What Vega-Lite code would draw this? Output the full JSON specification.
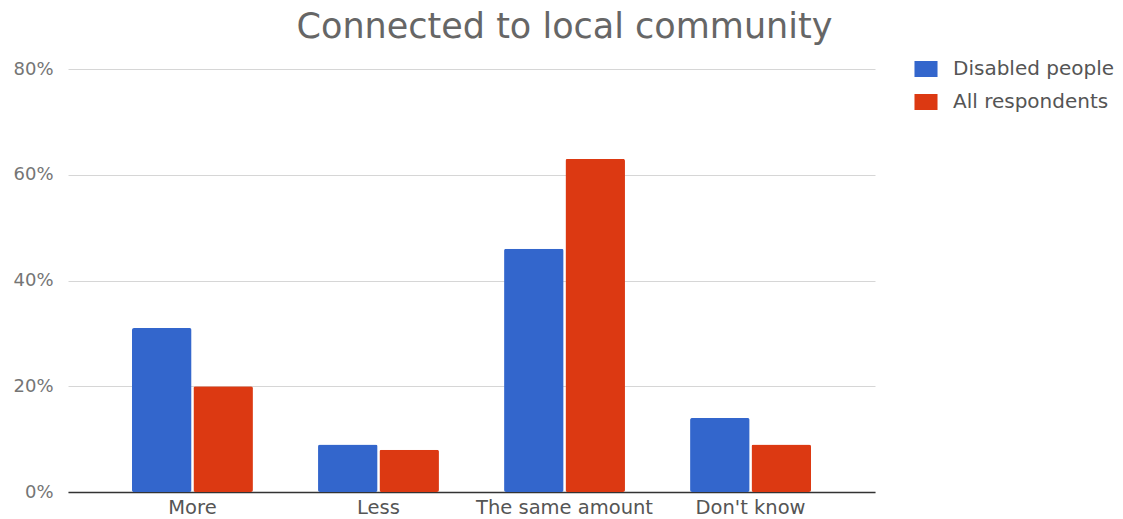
{
  "$schema": "https://vega.github.io/schema/vega-lite/v6.json",
  "width": 807,
  "height": 423,
  "autosize": {"type": "none"},
  "padding": {"left": 68, "top": 69, "right": 248, "bottom": 27},
  "background": "white",
  "config": {"font": "DejaVu Sans", "view": {"stroke": null}},
  "title": {
    "text": "Connected to local community",
    "fontSize": 35,
    "fontWeight": "normal",
    "color": "#666666",
    "anchor": "middle",
    "dx": 93,
    "offset": 14
  },
  "data": {
    "values": [
      {"response": "More", "group": "Disabled people", "share": 0.31},
      {"response": "More", "group": "All respondents", "share": 0.20},
      {"response": "Less", "group": "Disabled people", "share": 0.09},
      {"response": "Less", "group": "All respondents", "share": 0.08},
      {"response": "The same amount", "group": "Disabled people", "share": 0.46},
      {"response": "The same amount", "group": "All respondents", "share": 0.63},
      {"response": "Don't know", "group": "Disabled people", "share": 0.14},
      {"response": "Don't know", "group": "All respondents", "share": 0.09}
    ]
  },
  "mark": {"type": "bar", "cornerRadius": 2},
  "encoding": {
    "x": {
      "field": "response",
      "type": "nominal",
      "sort": ["More", "Less", "The same amount", "Don't know"],
      "scale": {"paddingInner": 0.35, "paddingOuter": 0.344},
      "axis": {
        "title": null,
        "labelAngle": 0,
        "labelFontSize": 19.5,
        "labelColor": "#555555",
        "labelPadding": 6,
        "labelLimit": 400,
        "ticks": false,
        "domainColor": "#333333",
        "domainWidth": 1.5
      }
    },
    "xOffset": {
      "field": "group",
      "type": "nominal",
      "sort": ["Disabled people", "All respondents"],
      "scale": {"paddingInner": 0.03}
    },
    "y": {
      "field": "share",
      "type": "quantitative",
      "scale": {"domain": [0, 0.8]},
      "axis": {
        "title": null,
        "values": [0, 0.2, 0.4, 0.6, 0.8],
        "format": ".0%",
        "labelFontSize": 18,
        "labelColor": "#757575",
        "labelPadding": 15,
        "ticks": false,
        "domain": false,
        "gridColor": "#d6d6d6"
      }
    },
    "color": {
      "field": "group",
      "type": "nominal",
      "sort": ["Disabled people", "All respondents"],
      "scale": {"domain": ["Disabled people", "All respondents"], "range": ["#3366cc", "#dc3912"]},
      "legend": {
        "title": null,
        "orient": "none",
        "legendX": 848,
        "legendY": -10,
        "symbolType": "M-1.44,-1L1.44,-1L1.44,1L-1.44,1Z",
        "symbolSize": 256,
        "symbolStrokeWidth": 0,
        "symbolOpacity": 1,
        "labelFontSize": 20,
        "labelColor": "#555555",
        "labelOffset": 17,
        "labelLimit": 400,
        "rowPadding": 13
      }
    }
  }
}
